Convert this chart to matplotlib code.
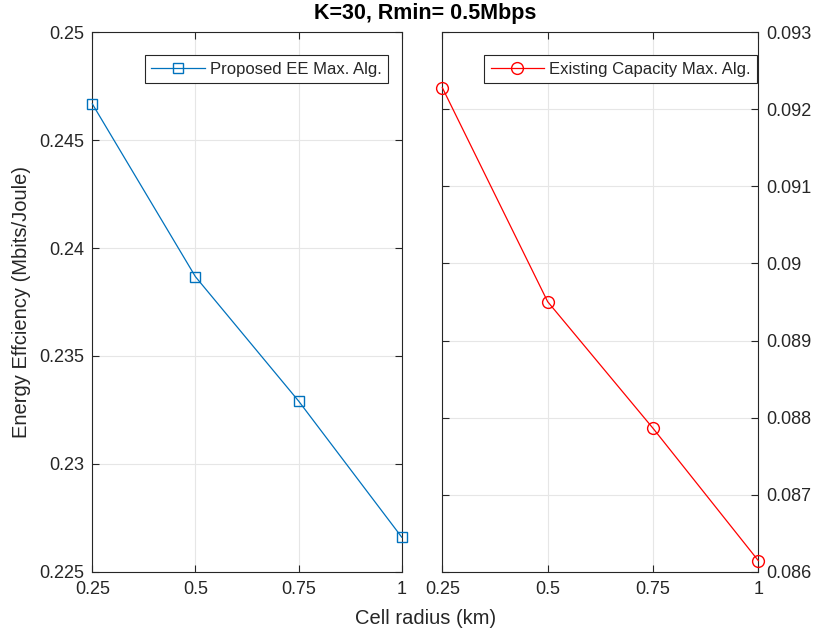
import matplotlib
matplotlib.use('Agg')
import matplotlib.pyplot as plt
from matplotlib.ticker import FuncFormatter

plt.rcParams['font.family'] = ['Liberation Sans', 'DejaVu Sans']

# data
radius = [0.25, 0.5, 0.75, 1.0]
ee_proposed = [0.24668, 0.23867, 0.23291, 0.22660]
ee_existing = [0.092281, 0.089504, 0.087861, 0.086143]

x_ticks = [0.25, 0.5, 0.75, 1.0]
left_yticks = [0.225, 0.23, 0.235, 0.24, 0.245, 0.25]
right_yticks = [0.086, 0.087, 0.088, 0.089, 0.090, 0.091, 0.092, 0.093]

fig = plt.figure(figsize=(8.17, 6.34), dpi=100)
ax1 = fig.add_axes([0.113, 0.0983, 0.3787, 0.8508])
ax2 = fig.add_axes([0.5414, 0.0983, 0.3868, 0.8508])

dark = '#262626'
fmt = FuncFormatter(lambda v, p: ('%g' % round(v, 6)))

def style(ax):
    ax.grid(True, color='#e6e6e6', linewidth=0.8)
    ax.set_axisbelow(True)
    for s in ax.spines.values():
        s.set_color(dark)
        s.set_linewidth(0.8)
    ax.tick_params(direction='in', length=5, width=0.8, color=dark,
                   labelcolor=dark, labelsize=13, top=True, right=True)
    ax.set_xlim(0.25, 1)
    ax.set_xticks(x_ticks)
    ax.xaxis.set_major_formatter(fmt)
    ax.yaxis.set_major_formatter(fmt)

ax1.plot(radius, ee_proposed, color='#0072BD', linewidth=0.9, marker='s',
         markersize=6.5, markerfacecolor='none', markeredgewidth=1.0,
         label='Proposed EE Max. Alg.', clip_on=False, zorder=3)
style(ax1)
ax1.set_ylim(0.225, 0.25)
ax1.set_yticks(left_yticks)
ax1.tick_params(axis='x', pad=7)
ax1.tick_params(axis='y', pad=6)
ax1.set_ylabel('Energy Effciency (Mbits/Joule)', fontsize=14.5, color=dark, labelpad=6)

ax2.plot(radius, ee_existing, color='#FF0000', linewidth=0.9, marker='o',
         markersize=8.5, markerfacecolor='none', markeredgewidth=1.0,
         label='Existing Capacity Max. Alg.', clip_on=False, zorder=3)
style(ax2)
ax2.set_ylim(0.086, 0.093)
ax2.set_yticks(right_yticks)
ax2.yaxis.tick_right()
ax2.tick_params(axis='y', left=True, right=True, labelleft=False, labelright=True, pad=6)
ax2.tick_params(axis='x', pad=7)

for ax, anchor in ((ax1, (0.9557, 0.958)), (ax2, (0.996, 0.958))):
    leg = ax.legend(loc='upper right', fontsize=12, fancybox=False, framealpha=1,
                    edgecolor='#262626', borderpad=0.4, handlelength=3.2,
                    handletextpad=0.3, borderaxespad=0, bbox_to_anchor=anchor)
    leg.get_frame().set_linewidth(0.8)
    for t in leg.get_texts():
        t.set_color(dark)

# title and x label are centred over the span of both axes
xc = (0.113 + 0.5414 + 0.3868) / 2
fig.text(xc, 0.978, 'K=30, Rmin= 0.5Mbps', ha='center', va='center',
         fontsize=15.5, fontweight='bold')
fig.text(xc, 0.024, 'Cell radius (km)', ha='center', va='center',
         fontsize=14.5, color=dark)

fig.savefig('out.png', dpi=100)
